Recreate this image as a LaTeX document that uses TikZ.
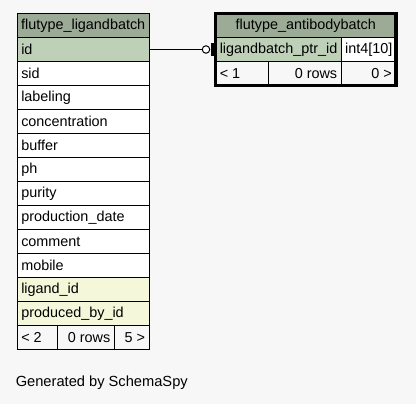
\documentclass[tikz,border=0pt]{standalone}
\usepackage{fontspec}
\setmainfont{Liberation Sans}
\begin{document}
\begin{tikzpicture}[x=0.75pt,y=-0.75pt,
  cell/.style={draw=black,line width=0.75pt,anchor=north west,inner sep=0pt,outer sep=0pt,minimum height=18pt},
  txt/.style={inner sep=0pt,font=\fontsize{10.8pt}{12pt}\selectfont,text=black},
  hdr/.style={cell,fill=hdrc},
  pk/.style={cell,fill=pkc},
  fk/.style={cell,fill=fkc},
  plain/.style={cell,fill=white},
  foot/.style={cell,fill=bgc}]
\definecolor{bgc}{HTML}{F7F7F7}
\definecolor{hdrc}{HTML}{9BAB96}
\definecolor{pkc}{HTML}{BED1B8}
\definecolor{fkc}{HTML}{F4F7DA}
\fill[bgc] (0,0) rectangle (416,404);
\useasboundingbox (0,0) rectangle (416,404);
% left table
\node[hdr,minimum width=99.3pt] (lh) at (17,13.5) {};
\node[txt] (lht) at (lh.center) {flutype\_ligandbatch};
\foreach \n/\t/\s [count=\i from 0] in {lid/id/pk,lsid/sid/plain,llab/labeling/plain,lconc/concentration/plain,lbuf/buffer/plain,lph/ph/plain,lpur/purity/plain,lpd/production\_date/plain,lcom/comment/plain,lmob/mobile/plain,llig/ligand\_id/fk,lprod/produced\_by\_id/fk}{
  \node[\s,minimum width=99.3pt] (\n) at (17,37.5+24*\i) {};
  \node[txt,anchor=west] (\n t) at ([xshift=3pt]\n.west) {\t};
}
\node[foot,minimum width=30.4pt] (lf1) at (17,325.5) {};
\node[foot,minimum width=42.75pt] (lf2) at (57.5,325.5) {};
\node[foot,minimum width=26.1pt] (lf3) at (114.5,325.5) {};
\node[txt,anchor=west] (lf1t) at ([xshift=3pt]lf1.west) {< 2};
\node[txt,anchor=east] (lf2t) at ([xshift=-3pt]lf2.east) {0 rows};
\node[txt,anchor=east] (lf3t) at ([xshift=-3pt]lf3.east) {5 >};
% right table
\node[hdr,minimum width=135.4pt] (rh) at (215.5,13.5) {};
\node[txt] (rht) at (rh.center) {flutype\_antibodybatch};
\node[pk,minimum width=94.5pt] (rid) at (215.5,37.5) {};
\node[txt,anchor=west] (ridt) at ([xshift=3pt]rid.west) {ligandbatch\_ptr\_id};
\node[plain,minimum width=40.9pt] (rty) at (341.5,37.5) {};
\node[txt] (rtyt) at (rty.center) {int4[10]};
\node[foot,minimum width=39.4pt] (rf1) at (215.5,61.5) {};
\node[foot,minimum width=55.1pt] (rf2) at (268,61.5) {};
\node[foot,minimum width=40.9pt] (rf3) at (341.5,61.5) {};
\node[txt,anchor=west] (rf1t) at ([xshift=3pt]rf1.west) {< 1};
\node[txt,anchor=east] (rf2t) at ([xshift=-3pt]rf2.east) {0 rows};
\node[txt,anchor=east] (rf3t) at ([xshift=-3pt]rf3.east) {0 >};
\draw[line width=2.4pt] (rh.north west) rectangle (rf3.south east);
% connector
\coordinate (cx) at (206,0);
\coordinate (cc) at (lid.east -| cx);
\draw[line width=0.75pt] (lid.east) -- ([xshift=-2.8pt]cc);
\draw[line width=0.75pt,fill=white] (cc) circle (2.8pt);
\fill[black] ([xshift=3.5pt,yshift=-5pt]cc) rectangle ([xshift=6.2pt,yshift=5pt]cc);
\node[txt,anchor=west,font=\fontsize{11pt}{13pt}\selectfont] (gen) at (15.5,383) {Generated by SchemaSpy};
\end{tikzpicture}
\end{document}
